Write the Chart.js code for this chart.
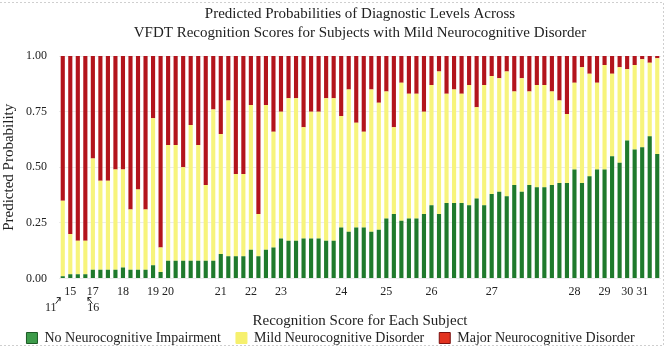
<!DOCTYPE html>
<html>
<head>
<meta charset="utf-8">
<script src="https://cdn.jsdelivr.net/npm/chart.js@4/dist/chart.umd.min.js"></script>
<style>
  body { margin: 0; background: #fff; }
  #box { width: 666px; height: 353px; }
</style>
</head>
<body>
<div id="box"><canvas id="DiagnosticChart"></canvas></div>
<script>
// probabilities per subject, ordered by VFDT recognition score
const noImpairment = [
  0.01, 0.02, 0.02, 0.02, 0.04, 0.04, 0.04, 0.04, 0.05, 0.04,
  0.04, 0.04, 0.06, 0.03, 0.08, 0.08, 0.08, 0.08, 0.08, 0.08,
  0.08, 0.11, 0.10, 0.10, 0.10, 0.13, 0.10, 0.13, 0.14, 0.18,
  0.17, 0.17, 0.18, 0.18, 0.18, 0.17, 0.17, 0.23, 0.21, 0.23,
  0.23, 0.21, 0.22, 0.27, 0.29, 0.26, 0.27, 0.27, 0.29, 0.33,
  0.29, 0.34, 0.34, 0.34, 0.33, 0.36, 0.33, 0.38, 0.39, 0.37,
  0.42, 0.39, 0.42, 0.41, 0.41, 0.42, 0.43, 0.43, 0.49, 0.43,
  0.46, 0.49, 0.49, 0.55, 0.52, 0.62, 0.58, 0.59, 0.64, 0.56
];
const mildDisorder = [
  0.34, 0.18, 0.15, 0.15, 0.50, 0.40, 0.40, 0.45, 0.44, 0.27,
  0.36, 0.27, 0.66, 0.11, 0.52, 0.52, 0.42, 0.61, 0.52, 0.34,
  0.68, 0.54, 0.70, 0.37, 0.37, 0.65, 0.19, 0.65, 0.52, 0.57,
  0.64, 0.64, 0.50, 0.57, 0.57, 0.64, 0.64, 0.50, 0.64, 0.47,
  0.43, 0.64, 0.57, 0.57, 0.39, 0.62, 0.56, 0.56, 0.46, 0.54,
  0.64, 0.49, 0.51, 0.49, 0.54, 0.41, 0.54, 0.53, 0.51, 0.56,
  0.42, 0.51, 0.42, 0.46, 0.46, 0.42, 0.37, 0.31, 0.39, 0.52,
  0.46, 0.39, 0.47, 0.37, 0.43, 0.32, 0.38, 0.395, 0.33, 0.43
];
const majorDisorder = [
  0.65, 0.80, 0.83, 0.83, 0.46, 0.56, 0.56, 0.51, 0.51, 0.69,
  0.60, 0.69, 0.28, 0.86, 0.40, 0.40, 0.50, 0.31, 0.40, 0.58,
  0.24, 0.35, 0.20, 0.53, 0.53, 0.22, 0.71, 0.22, 0.34, 0.25,
  0.19, 0.19, 0.32, 0.25, 0.25, 0.19, 0.19, 0.27, 0.15, 0.30,
  0.34, 0.15, 0.21, 0.16, 0.32, 0.12, 0.17, 0.17, 0.25, 0.13,
  0.07, 0.17, 0.15, 0.17, 0.13, 0.23, 0.13, 0.09, 0.10, 0.07,
  0.16, 0.10, 0.16, 0.13, 0.13, 0.16, 0.20, 0.26, 0.12, 0.05,
  0.08, 0.12, 0.04, 0.08, 0.05, 0.06, 0.04, 0.015, 0.03, 0.01
];

// score shown under the first subject of each score group
const scoreTickIndex = [1, 4, 8, 12, 14, 21, 25, 29, 37, 43, 49, 57, 68, 72, 75, 77];
const scoreTickText = ['15', '17', '18', '19', '20', '21', '22', '23', '24', '25', '26', '27', '28', '29', '30', '31'];
// scores written below the axis with an arrow
const arrowIndex = [0, 3];
const arrowText = ['11', '16'];

const seriesNames = ['No Neurocognitive Impairment', 'Mild Neurocognitive Disorder', 'Major Neurocognitive Disorder'];

const serif = "'Liberation Serif', 'Times New Roman', serif";
const green = '#1f7a2c';
const yellow = '#f7f47c';
const red = '#b3141c';

const scoreLabels = noImpairment.map(() => '');
scoreTickIndex.forEach((idx, i) => { scoreLabels[idx] = scoreTickText[i]; });

Chart.defaults.font.family = serif;
Chart.defaults.color = '#222';

const barData = {
    labels: scoreLabels,
    datasets: [{
        label: seriesNames[0],
        data: noImpairment,
        backgroundColor: green,
        legendFill: '#3d9b4a',
        legendStroke: '#1d5a26'
    }, {
        label: seriesNames[1],
        data: mildDisorder,
        backgroundColor: yellow,
        legendFill: '#f6f06e',
        legendStroke: '#f6f06e'
    }, {
        label: seriesNames[2],
        data: majorDisorder,
        backgroundColor: red,
        legendFill: '#e2321f',
        legendStroke: '#7a1010'
    }]
};

const arrowPlugin = {
    id: 'arrowNotes',
    afterDraw(chart) {
        const ctx = chart.ctx;
        const x = chart.scales.x;
        const base = chart.chartArea.bottom;
        ctx.save();
        ctx.fillStyle = '#222';
        ctx.strokeStyle = '#222';
        ctx.lineWidth = 1;
        ctx.font = '12px ' + serif;
        ctx.textAlign = 'center';
        ctx.textBaseline = 'middle';
        arrowIndex.forEach((idx, i) => {
            const px = x.getPixelForValue(idx);
            const dir = i === 0 ? -1 : 1;
            ctx.fillText(arrowText[i], px + dir * (i === 0 ? 12 : 8), base + 29);
            const x0 = px + dir * 7, y0 = base + 25;
            const x1 = px + dir * 2.5, y1 = base + 19;
            ctx.beginPath();
            ctx.moveTo(x0, y0);
            ctx.lineTo(x1, y1);
            ctx.stroke();
            ctx.beginPath();
            ctx.moveTo(x1, y1);
            ctx.lineTo(x1 + dir * 3.5, y1);
            ctx.moveTo(x1, y1);
            ctx.lineTo(x1 + dir * 0.3, y1 + 3.5);
            ctx.stroke();
        });
        ctx.restore();
    }
};

const framePlugin = {
    id: 'frame',
    afterDraw(chart) {
        const ctx = chart.ctx;
        ctx.save();
        ctx.strokeStyle = '#cfcfcf';
        ctx.lineWidth = 1;
        ctx.setLineDash([2, 2]);
        ctx.beginPath();
        ctx.moveTo(0, 2.5);
        ctx.lineTo(663.5, 2.5);
        ctx.lineTo(663.5, 345.5);
        ctx.lineTo(0, 345.5);
        ctx.stroke();
        ctx.restore();
    }
};

const config = {
    type: 'bar',
    data: barData,
    plugins: [arrowPlugin, framePlugin],
    options: {
        responsive: true,
        maintainAspectRatio: false,
        animation: false,
        layout: {
            padding: { left: 0, right: 5, top: 0, bottom: -2 }
        },
        datasets: {
            bar: {
                categoryPercentage: 1,
                barPercentage: 0.55
            }
        },
        plugins: {
            title: {
                display: true,
                fullSize: false,
                text: ['Predicted Probabilities of Diagnostic Levels Across',
                       'VFDT Recognition Scores for Subjects with Mild Neurocognitive Disorder'],
                color: '#222',
                font: { size: 15, weight: 'normal', lineHeight: 1.27 },
                padding: { top: 4.5, bottom: 13.4 }
            },
            legend: {
                position: 'bottom',
                labels: {
                    boxWidth: 11,
                    boxHeight: 11,
                    padding: 15,
                    color: '#222',
                    font: { size: 14 },
                    generateLabels(chart) {
                        return chart.data.datasets.map((ds, i) => ({
                            text: ds.label,
                            fillStyle: ds.legendFill,
                            strokeStyle: ds.legendStroke,
                            lineWidth: 1,
                            fontColor: '#222',
                            hidden: false,
                            datasetIndex: i
                        }));
                    }
                }
            },
            tooltip: { enabled: false }
        },
        scales: {
            x: {
                stacked: true,
                grid: { display: false, drawTicks: false },
                border: { display: false },
                ticks: {
                    autoSkip: false,
                    maxRotation: 0,
                    padding: 6,
                    color: '#222',
                    font: { size: 12 }
                },
                title: {
                    display: true,
                    text: 'Recognition Score for Each Subject',
                    color: '#222',
                    font: { size: 15 },
                    padding: { top: 7.3, bottom: -14.3 }
                }
            },
            y: {
                stacked: true,
                min: 0,
                max: 1,
                afterFit(scale) { scale.width = 59; },
                grid: { color: '#ececec', drawTicks: false },
                border: { display: false },
                ticks: {
                    stepSize: 0.25,
                    padding: 12,
                    color: '#222',
                    font: { size: 12 },
                    callback: (v) => v.toFixed(2)
                },
                title: {
                    display: true,
                    text: 'Predicted Probability',
                    color: '#222',
                    font: { size: 15 },
                    padding: 0
                }
            }
        }
    }
};

const chart = new Chart(
    document.getElementById('DiagnosticChart'),
    config
);
</script>
</body>
</html>
